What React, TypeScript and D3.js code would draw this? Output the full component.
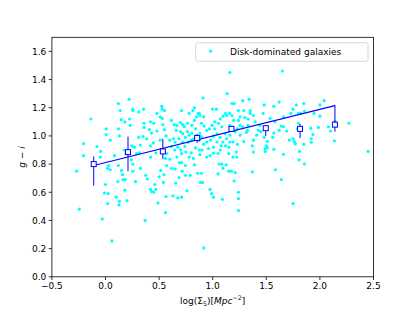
import React from "react";
import * as d3 from "d3";

// scatter: Disk-dominated galaxies (log Sigma5, g-i)
const galX = [
  1.16, 1.65, 1.135, 0.91, 0.22, 0.12, 2.04, 1.28, 1.34, 1.48, 1.62, 1.57, 1.78, 1.85, 2.0, 0.255, 0.355, 0.525, 0.53, 0.255,
  0.137, 0.71, 0.815, 0.83, 0.78, 0.875, 1.0, 1.035, 1.18, 1.2, 1.24, 1.29, 1.35, 1.35, 1.75, 1.73, 1.8, 1.82, 1.855, 1.945,
  2.27, 2.45, -0.137, -0.27, -0.245, -0.205, -0.205, -0.08, -0.045, 0.006, 0.006, 0.044, 0.13, 0.084, -0.01, 0.0, -0.03, 0.06, 0.025, 0.02,
  0.03, 0.044, 0.1, 0.115, 0.13, 0.125, 0.15, 0.16, 0.165, 0.185, 0.18, 0.2, 0.146, 0.18, 0.224, 0.23, 0.12, 0.174, 0.19, 0.24,
  0.255, 0.255, 0.28, 0.29, 0.317, 0.31, 0.35, 0.385, 0.36, 0.36, 0.41, 0.45, 0.48, 0.53, 0.535, 0.55, 0.565, 0.51, 0.445, 0.42,
  0.47, 0.42, 0.375, 0.39, 0.325, 0.42, 0.43, 0.45, 0.46, 0.47, 0.49, 0.5, 0.515, 0.545, 0.57, 0.54, 0.565, 0.56, 0.37, 0.6,
  0.615, 0.655, 0.63, 0.675, 0.71, 0.76, 0.745, 0.715, 0.71, 0.69, 0.665, 0.645, 0.675, 0.7, 0.74, 0.78, 0.8, 0.82, 0.84, 0.875,
  0.88, 0.9, 0.895, 0.86, 0.83, 0.79, 0.885, 0.905, 0.917, 0.975, 0.99, 1.007, 1.09, 1.05, 1.06, 1.085, 1.095, 1.125, 1.15, 1.175,
  1.21, 1.2, 1.24, 1.24, 1.24, 1.225, 1.22, 1.15, 1.12, 1.08, 1.05, 1.007, 0.975, 0.945, 1.37, 1.38, 1.37, 1.38, 1.29, 1.315,
  1.325, 1.41, 1.45, 1.48, 1.51, 1.5, 1.51, 1.49, 1.49, 1.56, 1.57, 1.57, 1.585, 1.64, 1.66, 1.715, 1.75, 1.69, 1.62, 1.64,
  1.66, 1.75, 1.76, 1.77, 1.79, 1.8, 1.855, 1.81, 1.806, 1.85, 1.92, 1.935, 1.915, 1.92, 1.985, 2.08, 2.1, 2.135, 2.0, 2.14,
  0.615, 0.64, 0.665, 0.7, 0.72, 0.735, 0.765, 0.66, 0.7, 0.72, 0.745, 0.765, 0.78, 0.805, 0.82, 0.8, 0.77, 0.72, 0.685, 0.635,
  0.65, 0.865, 0.88, 0.85, 0.915, 0.895, 0.92, 0.945, 0.97, 0.995, 1.02, 1.055, 1.07, 1.095, 1.12, 1.13, 1.155, 1.18, 1.195, 1.255,
  1.3, 1.33, 1.38, 1.395, 1.255, 1.23, 1.28, 1.33, 1.21, 1.255, 1.16, 1.115, 1.07, 1.04, 1.007, 0.98, 0.945, 0.915, 0.875, 0.88,
  0.85, 0.84, 0.805, 0.83, 0.895, 1.04, 1.095, 1.13, 1.16, 1.19, 1.23, 1.007, 0.96, 1.07, 1.15, 1.19, 1.02, 1.085, 1.16, 1.24,
  1.47, 1.535, 1.58, 1.66, 1.44, 1.425, 0.31, 0.48, 0.51, 0.55, 0.42, 0.43, 0.27, 0.245, 0.325, 0.57, 0.56, 0.6, 0.615, 0.71,
  0.75, 0.745, 0.65, 0.685, -0.05, 0.12, 0.02,
];
const galY = [
  1.45, 1.46, 1.3, 1.27, 1.26, 1.23, 1.25, 1.25, 1.26, 1.22, 1.24, 1.21, 1.22, 1.23, 1.22, 1.19, 1.19, 1.21, 1.19, 1.18,
  1.18, 1.18, 1.18, 1.2, 1.16, 1.16, 1.19, 1.19, 1.23, 1.23, 1.18, 1.18, 1.18, 1.16, 1.19, 1.16, 1.16, 1.16, 1.175, 1.16,
  1.09, 0.89, 1.12, 0.75, 0.48, 0.945, 0.86, 0.925, 0.89, 1.05, 1.01, 0.97, 1.0, 0.86, 0.595, 0.655, 0.41, 0.255, 0.59, 0.52,
  0.79, 0.76, 0.565, 0.675, 0.535, 0.51, 0.755, 0.725, 0.69, 0.69, 0.615, 0.54, 1.115, 1.1, 1.12, 1.075, 1.05, 0.9, 0.875, 0.83,
  0.8, 0.75, 0.675, 0.875, 0.88, 0.99, 0.995, 0.98, 1.06, 1.09, 1.045, 1.09, 1.035, 1.125, 1.08, 1.045, 1.0, 0.97, 0.95, 0.93,
  0.88, 0.85, 0.72, 0.695, 0.77, 0.62, 0.605, 0.6, 0.655, 0.62, 0.525, 0.71, 0.755, 0.725, 0.79, 0.67, 0.57, 0.455, 0.4, 0.835,
  0.77, 0.665, 0.575, 0.56, 0.565, 0.61, 0.72, 0.75, 0.81, 0.81, 0.85, 0.9, 0.92, 0.9, 0.925, 0.85, 0.88, 0.84, 0.915, 0.9,
  0.867, 0.9, 0.735, 0.735, 0.795, 0.72, 0.67, 0.67, 0.205, 0.62, 0.59, 0.565, 0.55, 0.73, 0.8, 0.8, 0.77, 0.795, 0.75, 0.75,
  0.74, 0.68, 0.6, 0.555, 0.47, 0.85, 0.885, 0.92, 0.93, 0.93, 0.875, 0.877, 0.86, 0.85, 0.745, 0.885, 0.93, 0.97, 0.96, 1.025,
  1.04, 1.005, 1.03, 0.99, 0.96, 0.93, 0.915, 0.91, 0.89, 0.99, 1.02, 0.905, 0.76, 0.69, 0.87, 0.97, 0.52, 1.035, 1.04, 1.07,
  1.065, 0.98, 0.96, 0.945, 1.05, 1.09, 0.8, 0.89, 0.83, 0.94, 0.98, 1.01, 1.055, 0.955, 1.06, 1.065, 1.035, 0.965, 1.14, 1.105,
  1.11, 1.08, 1.075, 1.095, 1.08, 1.065, 1.09, 1.04, 1.03, 1.015, 0.99, 1.03, 1.005, 1.02, 0.98, 0.97, 0.955, 0.955, 0.98, 0.98,
  0.955, 1.16, 1.145, 1.135, 1.135, 1.09, 1.07, 1.04, 1.05, 1.075, 1.1, 1.09, 1.12, 1.14, 1.16, 1.145, 1.16, 1.145, 1.11, 1.135,
  1.13, 1.12, 1.145, 1.1, 1.075, 1.05, 1.065, 1.075, 1.03, 1.005, 1.005, 1.015, 0.99, 1.015, 0.998, 0.97, 0.957, 0.94, 0.97, 1.017,
  1.005, 1.05, 1.075, 1.11, 0.995, 0.957, 0.957, 0.98, 0.957, 0.957, 0.94, 0.92, 0.91, 0.9, 0.875, 0.85, 1.05, 1.065, 1.075, 1.11,
  1.16, 1.125, 1.1, 1.135, 1.075, 1.04, 1.17, 1.16, 1.135, 1.18, 1.1, 1.02, 0.92, 0.93, 0.935, 0.875, 0.84, 0.97, 0.925, 0.875,
  0.885, 0.79, 0.765, 0.705, 0.85, 0.79, 0.77,
];

// binned means with error bars
const binX = [-0.11, 0.21, 0.535, 0.855, 1.175, 1.495, 1.815, 2.14];
const binY = [0.8, 0.885, 0.89, 0.985, 1.05, 1.055, 1.05, 1.08];
const binLo = [0.647, 0.75, 0.835, 0.95, 1.03, 1.0, 0.985, 1.03];
const binHi = [0.855, 0.995, 0.98, 1.01, 1.07, 1.07, 1.085, 1.22];

// linear fit endpoints
const fitX = [-0.11, 2.14];
const fitY = [0.79, 1.215];

const xTicks = [-0.5, 0.0, 0.5, 1.0, 1.5, 2.0, 2.5];
const yTicks = [0.0, 0.2, 0.4, 0.6, 0.8, 1.0, 1.2, 1.4, 1.6];
const legendLabel = "Disk-dominated galaxies";

const W = 415;
const H = 311;
const L = 51.9;
const R = 373.5;
const T = 37.3;
const B = 276.8;
const FONT = "DejaVu Sans, sans-serif";

const fmt = (v: number) => v.toFixed(1).replace("-", "\u2212");

export default function App() {
  const x = d3.scaleLinear().domain([-0.5, 2.5]).range([L, R]);
  const y = d3.scaleLinear().domain([0, 1.7]).range([B, T]);
  const line = d3.line<number>().x((d) => x(fitX[d])).y((d) => y(fitY[d]));
  const sq = 5;

  return (
    <svg
      width={W}
      height={H}
      style={{ position: "absolute", left: 0, top: 0, background: "#fff" }}
      fontFamily={FONT}
    >
      <rect x={0} y={0} width={W} height={H} fill="#fff" />
      <defs>
        <clipPath id="plotclip">
          <rect x={L} y={T} width={R - L} height={B - T} />
        </clipPath>
      </defs>
      <g clipPath="url(#plotclip)">
        {galX.map((gx, i) => (
          <circle key={i} cx={x(gx)} cy={y(galY[i])} r={1.6} fill="#00ffff" />
        ))}
        <path d={line([0, 1]) || ""} fill="none" stroke="#0000ff" strokeWidth={1.2} />
        {binX.map((bx, i) => (
          <line
            key={"e" + i}
            x1={x(bx)}
            x2={x(bx)}
            y1={y(binLo[i])}
            y2={y(binHi[i])}
            stroke="#0000ff"
            strokeWidth={1}
          />
        ))}
        {binX.map((bx, i) => (
          <rect
            key={"s" + i}
            x={x(bx) - sq / 2}
            y={y(binY[i]) - sq / 2}
            width={sq}
            height={sq}
            fill="#fff"
            stroke="#0000ff"
            strokeWidth={1}
          />
        ))}
      </g>
      <rect x={L} y={T} width={R - L} height={B - T} fill="none" stroke="#000" strokeWidth={0.8} />
      {xTicks.map((t) => (
        <g key={"xt" + t}>
          <line x1={x(t)} x2={x(t)} y1={B} y2={B + 3.2} stroke="#000" strokeWidth={0.8} />
          <text x={x(t)} y={289} fontSize={9} textAnchor="middle" fill="#000">
            {fmt(t)}
          </text>
        </g>
      ))}
      {yTicks.map((t) => (
        <g key={"yt" + t}>
          <line x1={L - 3.2} x2={L} y1={y(t)} y2={y(t)} stroke="#000" strokeWidth={0.8} />
          <text x={46.3} y={y(t) + 3.3} fontSize={9} textAnchor="end" fill="#000">
            {fmt(t)}
          </text>
        </g>
      ))}
      <text x={212.7} y={304} fontSize={9} textAnchor="middle" fill="#000">
        <tspan>log(Σ</tspan>
        <tspan fontSize={6.3} dy={1.8}>5</tspan>
        <tspan dy={-1.8}>)[</tspan>
        <tspan fontStyle="italic">Mpc</tspan>
        <tspan fontSize={6.3} dy={-3.6}>−2</tspan>
        <tspan dy={3.6}>]</tspan>
      </text>
      <text
        transform={`translate(24.5, ${(T + B) / 2}) rotate(-90)`}
        fontSize={9}
        textAnchor="middle"
        fill="#000"
      >
        <tspan fontStyle="italic">g</tspan>
        <tspan> − </tspan>
        <tspan fontStyle="italic">i</tspan>
      </text>
      <rect
        x={195.7}
        y={42.7}
        width={172.3}
        height={18.6}
        rx={2}
        ry={2}
        fill="#fff"
        fillOpacity={0.8}
        stroke="#cccccc"
        strokeWidth={0.8}
      />
      <circle cx={210.7} cy={51.2} r={1.6} fill="#00ffff" />
      <text x={230} y={54.6} fontSize={9} fill="#000">
        {legendLabel}
      </text>
    </svg>
  );
}
